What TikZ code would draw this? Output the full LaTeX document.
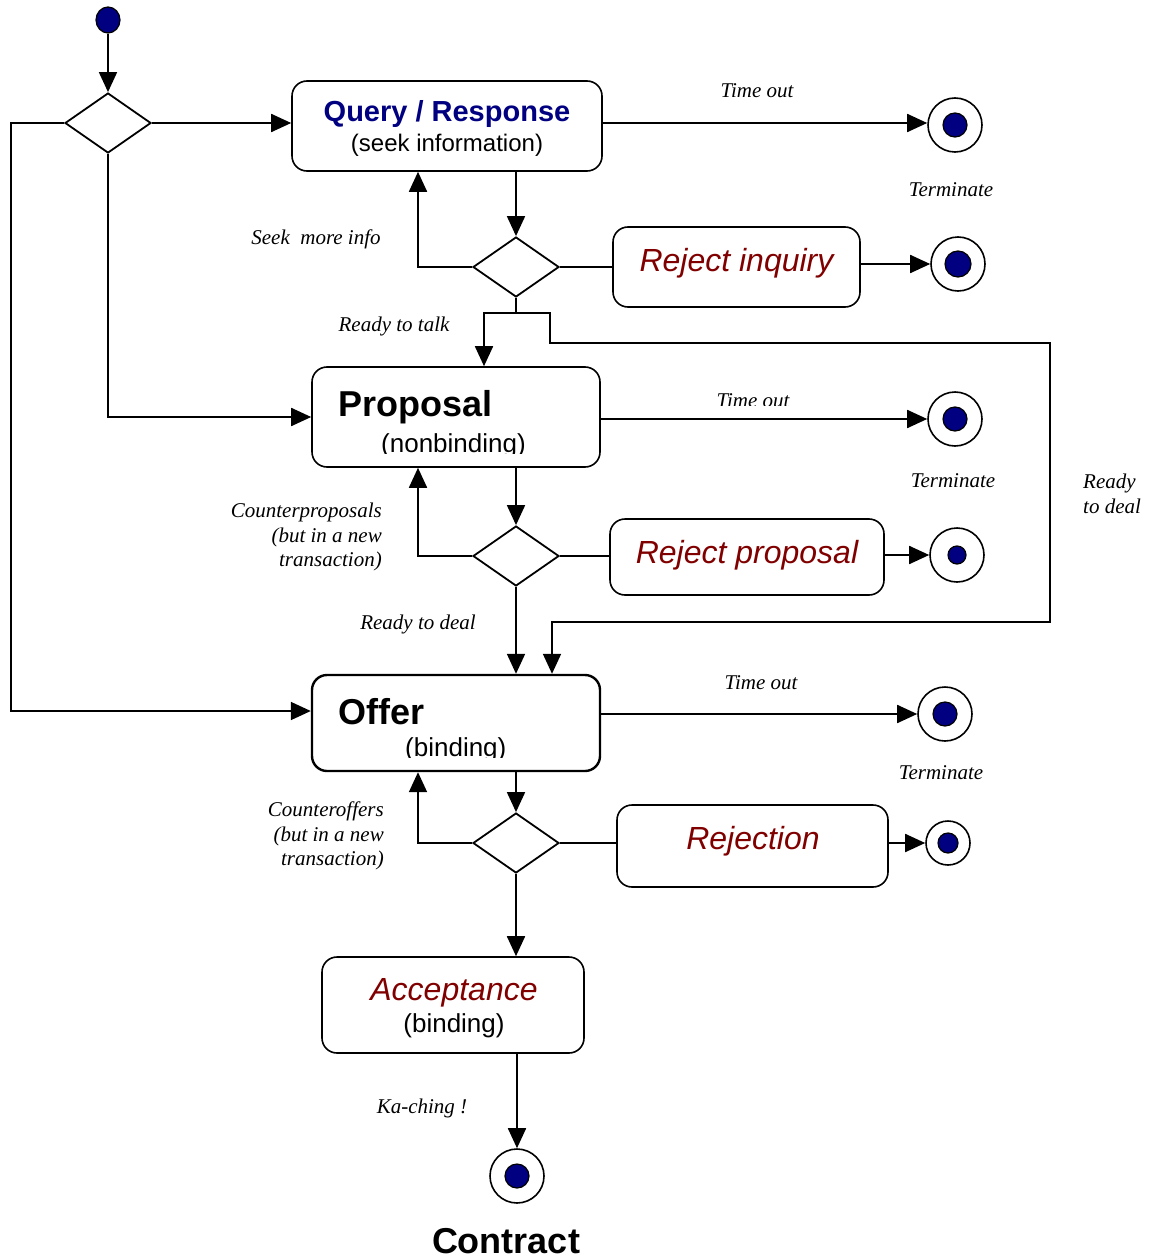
\documentclass[tikz,border=0pt]{standalone}
\usepackage{fontspec}
\setmainfont{Liberation Sans}
\newfontfamily\arialf{Liberation Sans}
\newfontfamily\tnrf{Liberation Serif}
\usetikzlibrary{arrows.meta,shapes.geometric,calc}
\definecolor{navyc}{RGB}{0,0,128}
\definecolor{redc}{RGB}{128,0,0}
\begin{document}
\begin{tikzpicture}[x=1pt,y=-1pt,
  conn/.style={line width=1.8pt},
  arr/.style={conn,-{Triangle[length=20pt,width=18pt]}},
  box/.style={draw,rounded corners=15pt,line width=1.6pt,inner sep=0pt},
  dia/.style={draw,diamond,line width=1.8pt,inner sep=0pt,minimum width=86pt,minimum height=60pt},
  fin/.style={circle,draw,line width=1.6pt,fill=white,minimum size=54pt,inner sep=0pt,
    path picture={\fill[navyc,draw=black,line width=1.2pt] (path picture bounding box.center) circle (#1pt);}},
  lbl/.style={font=\tnrf\itshape\fontsize{21}{24.5}\selectfont,inner sep=0pt},
  big/.style={font=\arialf\bfseries\fontsize{36}{40}\selectfont,inner sep=0pt},
  sub/.style={font=\arialf\fontsize{26}{30}\selectfont,inner sep=0pt},
  red/.style={font=\arialf\itshape\fontsize{32}{36}\selectfont,text=redc,inner sep=0pt}
]
\useasboundingbox (0,0) rectangle (1160,1260);

% start
\node[ellipse,draw,line width=1.2pt,fill=navyc,minimum width=24pt,minimum height=26pt,inner sep=0pt] (start) at (108,20) {};

% diamonds
\node[dia] (d1) at (108,123) {};
\node[dia] (d2) at (516,267) {};
\node[dia] (d3) at (516,556) {};
\node[dia] (d4) at (516,843) {};

% boxes
\node[box,minimum width=310pt,minimum height=90pt] (q) at (447,126) {};
\node[font=\arialf\bfseries\fontsize{29}{33}\selectfont,text=navyc,inner sep=0pt] (qt) at (447,114) {Query / Response};
\node[font=\arialf\fontsize{24}{28}\selectfont,inner sep=0pt] (qs) at (447,145) {(seek information)};

\node[box,minimum width=247pt,minimum height=80pt] (ri) at (736.5,267) {};
\node[red] (rit) at (736.5,263) {Reject inquiry};

\node[box,minimum width=288pt,minimum height=100pt] (prop) at (456,417) {};
\node[big,anchor=base west] (pt) at (338,416) {Proposal};
\begin{scope}
\clip (320,420) rectangle (590,453);
\node[sub,anchor=base west] (ps) at (381,452) {(nonbinding)};
\end{scope}

\node[box,minimum width=274pt,minimum height=76pt] (rp) at (747,557) {};
\node[red] (rpt) at (747,555) {Reject proposal};

\node[box,line width=2.4pt,minimum width=288pt,minimum height=96pt] (off) at (456,723) {};
\node[big,anchor=base west] (ot) at (338,724) {Offer};
\begin{scope}
\clip (320,728) rectangle (590,757);
\node[sub,anchor=base west] (os) at (405,756) {(binding)};
\end{scope}

\node[box,minimum width=271pt,minimum height=82pt] (rej) at (752.5,846) {};
\node[red] (rejt) at (753,841) {Rejection};

\node[box,minimum width=262pt,minimum height=96pt] (acc) at (453,1005) {};
\node[red] (acct) at (454,993) {Acceptance};
\node[sub] (accs) at (454,1026) {(binding)};

% final states
\node[fin=12] (f1) at (955,125) {};
\node[fin=13] (f2) at (958,264) {};
\node[fin=12] (f3) at (955,419) {};
\node[fin=9] (f4) at (957,555) {};
\node[fin=12] (f5) at (945,714) {};
\node[fin=10,minimum size=44pt] (f6) at (948,843) {};
\node[fin=12] (f7) at (517,1176) {};

% labels
\node[lbl] (l1) at (757,91) {Time out};
\node[lbl] (l2) at (951,190) {Terminate};
\node[lbl] (l3) at (316,239) {Seek\ \ more info};
\node[lbl] (l4) at (394,326) {Ready to talk};
\begin{scope}
\clip (700,380) rectangle (820,405.5);
\node[lbl,anchor=base] (l5) at (753,407) {Time out};
\end{scope}
\node[lbl] (l6) at (953,481) {Terminate};
\node[lbl,align=left,anchor=west] (l7) at (1083,494) {Ready\\to deal};
\node[lbl,align=right,anchor=east] (l8) at (382,537) {Counterproposals\\(but in a new\\transaction)};
\node[lbl] (l9) at (418,624) {Ready to deal};
\node[lbl] (l10) at (761,683) {Time out};
\node[lbl] (l11) at (941,773) {Terminate};
\node[lbl,align=right,anchor=east] (l12) at (384,836) {Counteroffers\\(but in a new\\transaction)};
\node[lbl] (l13) at (422,1108) {Ka-ching !};
\node[big] (ct) at (506,1241) {Contract};

% coordinates for routing
\coordinate (lft) at (11,711);
\coordinate (j1) at (516,313);
\coordinate (r1) at (550,343);
\coordinate (r2) at (1050,622);

% connectors
\draw[arr] (start) -- (d1.north);
\draw[arr] (d1.east) -- (d1.east -| q.west);
\draw[arr] (d1.west) -| (lft) -- (lft -| off.west);
\draw[arr] (d1.south) |- (prop.west);

\draw[arr] (q.south -| d2) -- (d2.north);
\draw[arr] (d2.west) -| ([xshift=-29pt]q.south);
\draw[conn] (d2.east) -- (d2.east -| ri.west);
\draw[arr] (ri.east |- f2) -- (f2.west);
\draw[arr] (q.east |- d1) -- (d1 -| f1.west);

\draw[conn] (d2.south) -- (j1);
\draw[arr] (j1) -| ([xshift=28pt]prop.north);
\draw[arr] (j1) -| (r1) -| (r2) -| ([xshift=96pt]off.north);

\draw[arr] (prop.east |- f3) -- (f3.west);
\draw[arr] (prop.south -| d3) -- (d3.north);
\draw[arr] (d3.west) -| ([xshift=-38pt]prop.south);
\draw[conn] (d3.east) -- (d3.east -| rp.west);
\draw[arr] (rp.east |- f4) -- (f4.west);
\draw[arr] (d3.south) -- (d3.south |- off.north);

\draw[arr] (off.east |- f5) -- (f5.west);
\draw[arr] (off.south -| d4) -- (d4.north);
\draw[arr] (d4.west) -| ([xshift=-38pt]off.south);
\draw[conn] (d4.east) -- (d4.east -| rej.west);
\draw[arr] (rej.east |- f6) -- (f6.west);
\draw[arr] (d4.south) -- (d4.south |- acc.north);

\draw[arr] (acc.south -| f7) -- (f7.north);
\end{tikzpicture}
\end{document}
